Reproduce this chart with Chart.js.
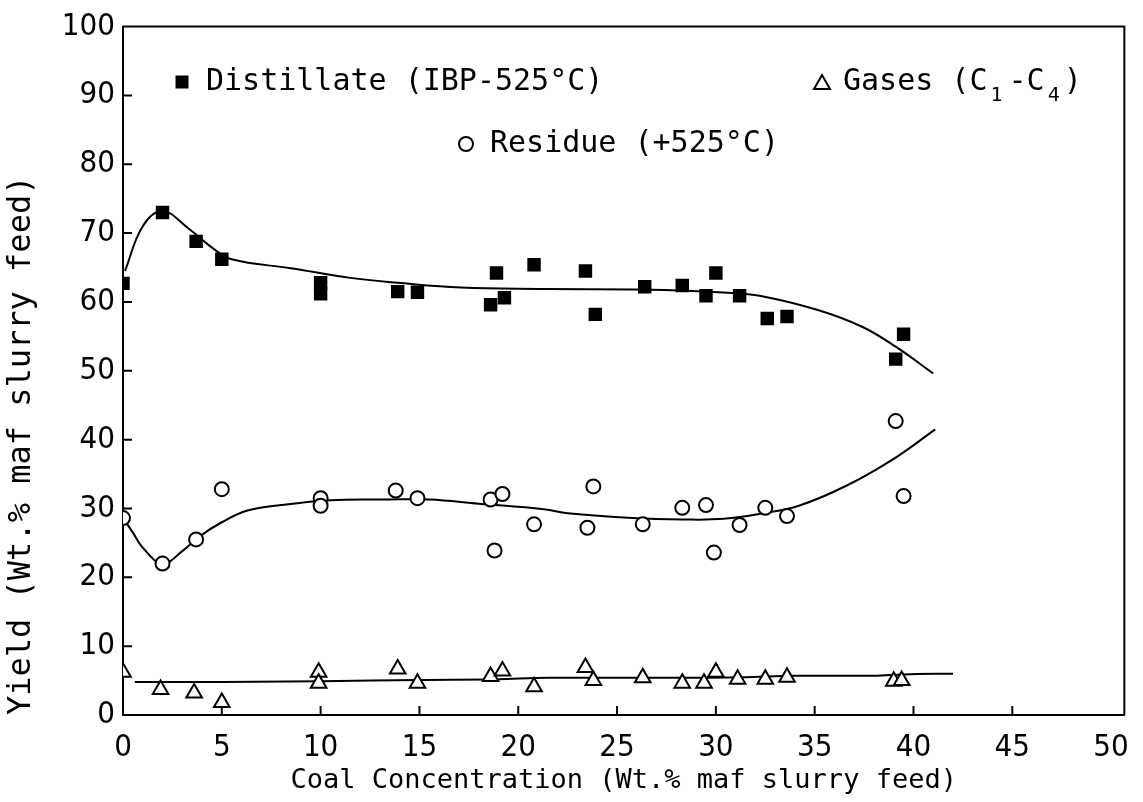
<!DOCTYPE html>
<html>
<head>
<meta charset="utf-8">
<title>Yield vs Coal Concentration</title>
<script src="https://cdn.jsdelivr.net/npm/chart.js@4.4.1/dist/chart.umd.min.js"></script>
<style>
    html, body { margin: 0; padding: 0; background: #fff; }
    #wrap { width: 1143px; height: 802px; position: relative; }
</style>
</head>
<body>
<div id="wrap"><canvas id="yieldChart"></canvas></div>
<script>
// measured points (coal conc. wt.% vs yield wt.%)
const distillateX = [0, 2.0, 3.7, 5.0, 10.0, 10.0, 13.9, 14.9, 18.6, 18.9, 19.3, 20.8, 23.4, 23.9, 26.4, 28.3, 29.5, 30.0, 31.2, 32.6, 33.6, 39.1, 39.5];
const distillateY = [62.7, 73.0, 68.8, 66.2, 62.8, 61.2, 61.5, 61.4, 59.6, 64.2, 60.6, 65.4, 64.5, 58.2, 62.2, 62.4, 60.9, 64.2, 60.9, 57.6, 57.9, 51.7, 55.3];

const residueX = [0, 2.0, 3.7, 5.0, 10.0, 10.0, 13.8, 14.9, 18.6, 18.8, 19.2, 20.8, 23.5, 23.8, 26.3, 28.3, 29.5, 29.9, 31.2, 32.5, 33.6, 39.1, 39.5];
const residueY = [28.6, 22.0, 25.5, 32.8, 31.5, 30.4, 32.6, 31.5, 31.3, 23.9, 32.1, 27.7, 27.2, 33.2, 27.7, 30.1, 30.5, 23.6, 27.6, 30.1, 28.9, 42.7, 31.8];

const gasesX = [0, 1.9, 3.6, 5.0, 9.9, 9.9, 13.9, 14.9, 18.6, 19.2, 20.8, 23.4, 23.8, 26.3, 28.3, 29.4, 30.0, 31.1, 32.5, 33.6, 39.0, 39.4];
const gasesY = [6.2, 3.7, 3.2, 1.8, 6.2, 4.6, 6.7, 4.6, 5.6, 6.4, 4.1, 6.9, 5.0, 5.4, 4.6, 4.6, 6.2, 5.2, 5.2, 5.5, 4.9, 5.0];

// hand-drawn trend curves
const distillateFitX = [0.1, 1, 2, 3.3, 4.5, 5.5, 8.5, 11.5, 13.9, 17.1, 21.3, 25.8, 28.8, 30.8, 32.4, 35.2, 37.4, 39.1, 41.0];
const distillateFitY = [64.5, 71.0, 73.2, 70.7, 67.9, 66.2, 64.9, 63.5, 62.8, 62.1, 61.9, 61.8, 61.6, 61.3, 60.8, 58.8, 56.4, 53.5, 49.6];

const residueFitX = [0, 0.5, 1, 2, 3, 3.85, 5, 6.3, 8, 10.5, 13.2, 15.5, 18, 21.3, 22.5, 25.8, 28.3, 30.4, 32.4, 34.2, 36.6, 39.1, 41.1];
const residueFitY = [28.6, 26.5, 24.3, 22.0, 23.8, 25.9, 28.0, 29.7, 30.5, 31.2, 31.3, 31.3, 30.7, 29.9, 29.3, 28.6, 28.4, 28.5, 29.3, 30.4, 33.3, 37.4, 41.5];

const gasesFitX = [0.6, 5, 10, 15, 19, 21.5, 25, 28, 31.5, 34, 38, 39.5, 42];
const gasesFitY = [4.8, 4.8, 4.9, 5.1, 5.2, 5.4, 5.4, 5.4, 5.5, 5.7, 5.7, 5.9, 6.0];

const xTicks = [0, 5, 10, 15, 20, 25, 30, 35, 40, 45, 50];
const yTicks = [0, 10, 20, 30, 40, 50, 60, 70, 80, 90, 100];

const xTitle = 'Coal Concentration (Wt.% maf slurry feed)';
const yTitle = 'Yield (Wt.% maf slurry feed)';

const tickFont = "'Liberation Sans Narrow', 'DejaVu Sans Condensed', sans-serif";
const monoFont = "'DejaVu Sans Mono', monospace";

function toPoints(xs, ys) {
    return xs.map((x, i) => ({ x: x, y: ys[i] }));
}

// frame, inward ticks and the in-plot key
const framePlugin = {
    id: 'frame',
    afterDraw(chart) {
        const { ctx, chartArea: a, scales } = chart;
        ctx.save();
        ctx.strokeStyle = '#000';
        ctx.lineWidth = 2;
        ctx.beginPath();
        ctx.moveTo(a.left, a.top);
        ctx.lineTo(a.right, a.top);
        ctx.lineTo(a.right, a.bottom);
        scales.y.ticks.forEach(t => {
            if (t.value <= 0 || t.value >= 100) return;
            const py = scales.y.getPixelForValue(t.value);
            ctx.moveTo(a.left, py);
            ctx.lineTo(a.left + 9, py);
        });
        scales.x.ticks.forEach(t => {
            if (t.value <= 0 || t.value >= 50) return;
            const px = scales.x.getPixelForValue(t.value);
            ctx.moveTo(px, a.bottom);
            ctx.lineTo(px, a.bottom - 9);
        });
        ctx.stroke();

        // key
        ctx.fillStyle = '#000';
        ctx.textBaseline = 'middle';
        ctx.font = '30px ' + monoFont;

        ctx.fillRect(182 - 6.5, 82 - 6.5, 13, 13);
        ctx.fillText('Distillate (IBP-525°C)', 206, 82);

        ctx.beginPath();
        ctx.arc(466, 144, 7, 0, Math.PI * 2);
        ctx.stroke();
        ctx.fillText('Residue (+525°C)', 490, 144);

        ctx.beginPath();
        ctx.moveTo(822, 75);
        ctx.lineTo(830, 89);
        ctx.lineTo(814, 89);
        ctx.closePath();
        ctx.stroke();
        let cx = 843;
        ctx.fillText('Gases (C', cx, 82);
        cx += ctx.measureText('Gases (C').width + 3;
        ctx.font = '20px ' + monoFont;
        ctx.fillText('1', cx, 96);
        cx += ctx.measureText('1').width + 6;
        ctx.font = '30px ' + monoFont;
        ctx.fillText('-C', cx, 82);
        cx += ctx.measureText('-C').width + 3;
        ctx.font = '20px ' + monoFont;
        ctx.fillText('4', cx, 96);
        cx += ctx.measureText('4').width + 4;
        ctx.font = '30px ' + monoFont;
        ctx.fillText(')', cx, 82);
        ctx.restore();
    }
};

const ctx = document.getElementById('yieldChart');
new Chart(ctx, {
    type: 'scatter',
    data: {
        datasets: [
            {
                label: 'Distillate (IBP-525°C)',
                data: toPoints(distillateX, distillateY),
                pointStyle: 'rect',
                pointRadius: 9.5,
                pointBackgroundColor: '#000',
                pointBorderColor: '#000',
                pointBorderWidth: 0,
                order: 0
            },
            {
                label: 'Residue (+525°C)',
                data: toPoints(residueX, residueY),
                pointStyle: 'circle',
                pointRadius: 7,
                pointBackgroundColor: '#fff',
                pointBorderColor: '#000',
                pointBorderWidth: 2,
                order: 0
            },
            {
                label: 'Gases (C1-C4)',
                data: toPoints(gasesX, gasesY),
                pointStyle: 'triangle',
                pointRadius: 9,
                pointBackgroundColor: '#fff',
                pointBorderColor: '#000',
                pointBorderWidth: 2,
                order: 0
            },
            {
                label: 'distillate curve',
                data: toPoints(distillateFitX, distillateFitY),
                showLine: true,
                borderColor: '#000',
                borderWidth: 2,
                pointRadius: 0,
                tension: 0.4,
                order: 1
            },
            {
                label: 'residue curve',
                data: toPoints(residueFitX, residueFitY),
                showLine: true,
                borderColor: '#000',
                borderWidth: 2,
                pointRadius: 0,
                tension: 0.4,
                order: 1
            },
            {
                label: 'gases curve',
                data: toPoints(gasesFitX, gasesFitY),
                showLine: true,
                borderColor: '#000',
                borderWidth: 2,
                pointRadius: 0,
                cubicInterpolationMode: 'monotone',
                order: 1
            }
        ]
    },
    options: {
        responsive: true,
        maintainAspectRatio: false,
        animation: false,
        layout: { padding: { top: 20, right: 3, left: 0, bottom: 0 } },
        plugins: {
            legend: { display: false },
            tooltip: { enabled: false }
        },
        scales: {
            x: {
                type: 'linear',
                min: 0,
                max: 50.67,
                afterBuildTicks: scale => {
                    scale.ticks = xTicks.map(v => ({ value: v }));
                },
                afterFit: scale => { scale.height = 87; },
                grid: { display: false, drawTicks: false },
                border: { display: true, color: '#000', width: 2 },
                ticks: {
                    color: '#000',
                    padding: 14,
                    maxRotation: 0,
                    font: { family: tickFont, size: 31 }
                },
                title: {
                    display: true,
                    text: xTitle,
                    color: '#000',
                    padding: { top: 0, bottom: 5 },
                    font: { family: monoFont, size: 27 }
                }
            },
            y: {
                type: 'linear',
                min: 0,
                max: 100,
                afterBuildTicks: scale => {
                    scale.ticks = yTicks.map(v => ({ value: v }));
                },
                afterFit: scale => { scale.width = 123; },
                grid: { display: false, drawTicks: false },
                border: { display: true, color: '#000', width: 2 },
                ticks: {
                    color: '#000',
                    padding: 8,
                    font: { family: tickFont, size: 31 }
                },
                title: {
                    display: true,
                    text: yTitle,
                    align: 'start',
                    color: '#000',
                    padding: 2,
                    font: { family: monoFont, size: 32 }
                }
            }
        }
    },
    plugins: [framePlugin]
});
</script>
</body>
</html>
